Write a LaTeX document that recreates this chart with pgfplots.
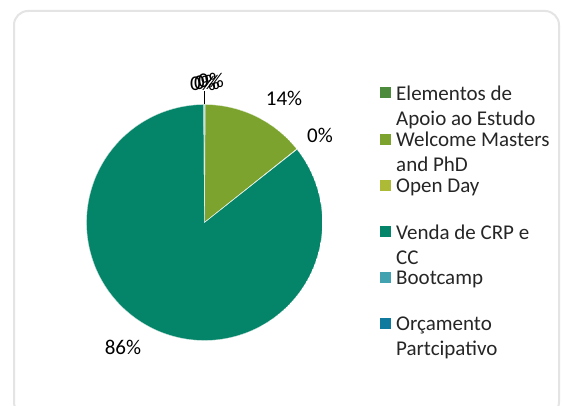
\documentclass[border=0pt]{standalone}
\usepackage{fontspec}
\setmainfont{Carlito}
\usepackage{pgfplots}
\pgfplotsset{compat=1.18}
\usepgfplotslibrary{polar}

\definecolor{cElem}{HTML}{4B8B3B}
\definecolor{cWelc}{HTML}{7BA32D}
\definecolor{cOpen}{HTML}{ADBA35}
\definecolor{cVend}{HTML}{048468}
\definecolor{cBoot}{HTML}{43A2B0}
\definecolor{cOrca}{HTML}{0F7A9E}
\definecolor{cText}{HTML}{262626}
\definecolor{cCard}{HTML}{E4E4E4}

% shares in percent, clockwise from 12 o'clock
\def\vElem{0.1}
\def\vWelc{14.2}
\def\vOpen{0.05}
\def\vVend{85.55}
\def\vBoot{0.05}
\def\vOrca{0.05}

\pgfmathsetmacro\aA{90}
\pgfmathsetmacro\aB{\aA-3.6*\vElem}
\pgfmathsetmacro\aC{\aB-3.6*\vWelc}
\pgfmathsetmacro\aD{\aC-3.6*\vOpen}
\pgfmathsetmacro\aE{\aD-3.6*\vVend}
\pgfmathsetmacro\aF{\aE-3.6*\vBoot}
\pgfmathsetmacro\aG{\aF-3.6*\vOrca}

\newcommand{\ls}{\rule[-6bp]{0pt}{17bp}}
\newcommand{\lbl}[1]{\parbox[b]{170bp}{#1}}
\newcommand{\bigfont}{\fontsize{21bp}{25bp}\selectfont}

\begin{document}
\begin{tikzpicture}
\useasboundingbox (0,0) rectangle (563bp,406bp);
\fill[white] (0,0) rectangle (563bp,406bp);
\draw[cCard, line width=2bp, rounded corners=14bp] (14bp,-10bp) rectangle (559bp,395bp);

\begin{polaraxis}[
    at={(204.5bp,183.5bp)}, anchor=center,
    width=236bp, height=236bp, scale only axis,
    ymin=0, ymax=1, hide axis,
    legend style={at={(1.2436,1.080)}, anchor=north west, draw=none, fill=none,
                  font=\bigfont\color{cText}, inner sep=0pt, row sep=5.5bp,
                  nodes={inner sep=0pt},
                  /tikz/every odd column/.append style={column sep=5bp}},
    legend cell align=left,
    legend image code/.code={\fill[#1, draw=none] (0bp,8bp) rectangle (11bp,19bp);},
]
\addplot[fill=cElem, draw=white, line width=0.4bp, domain=\aA:\aB, samples=3] {1} -- (axis cs:0,0) -- cycle;
\addlegendentry{\lbl{\ls Elementos de\\\ls Apoio ao Estudo}}
\addplot[fill=cWelc, draw=white, line width=0.4bp, domain=\aB:\aC, samples=60] {1} -- (axis cs:0,0) -- cycle;
\addlegendentry{\lbl{\ls Welcome Masters\\\ls and PhD}}
\addplot[fill=cOpen, draw=white, line width=0.4bp, domain=\aC:\aD, samples=3] {1} -- (axis cs:0,0) -- cycle;
\addlegendentry{\lbl{\ls Open Day\\\ls}}
\addplot[fill=cVend, draw=white, line width=0.4bp, domain=\aD:\aE, samples=240] {1} -- (axis cs:0,0) -- cycle;
\addlegendentry{\lbl{\ls Venda de CRP e\\\ls CC}}
\addplot[fill=cBoot, draw=white, line width=0.4bp, domain=\aE:\aF, samples=3] {1} -- (axis cs:0,0) -- cycle;
\addlegendentry{\lbl{\ls Bootcamp\\\ls}}
\addplot[fill=cOrca, draw=white, line width=0.4bp, domain=\aF:\aG, samples=3] {1} -- (axis cs:0,0) -- cycle;
\addlegendentry{\lbl{\ls Orçamento\\\ls Partcipativo}}
\end{polaraxis}

% data labels
\begin{scope}[every node/.style={font=\bigfont, text=black, inner sep=0pt}]
\draw[black, line width=0.75bp] (204.5bp,302bp) -- (204.5bp,315bp);
\node at (203bp,323bp) {0\%};
\node at (207bp,324bp) {0\%};
\node at (211bp,326bp) {0\%};
\node at (284bp,308bp) {14\%};
\node at (320bp,271bp) {0\%};
\node at (123bp,59bp) {86\%};
\end{scope}
\end{tikzpicture}
\end{document}
